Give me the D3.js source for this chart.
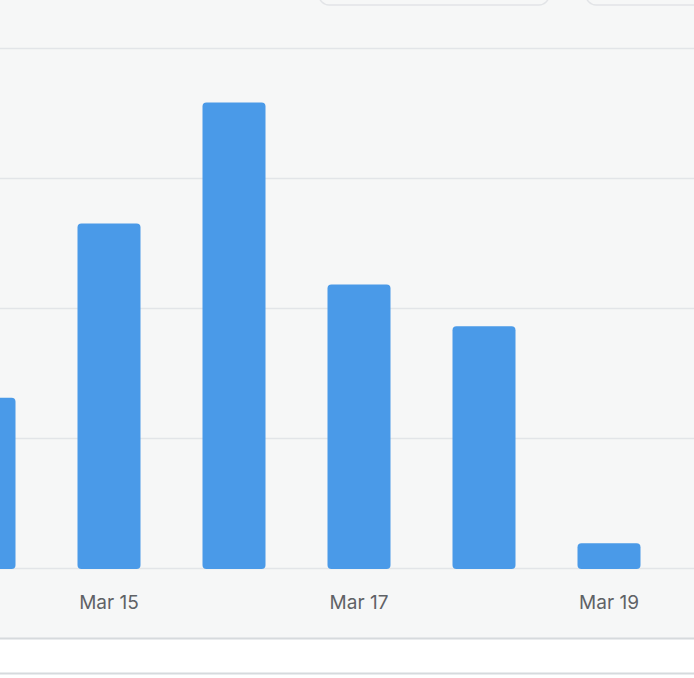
<!DOCTYPE html>
<html><head><meta charset="utf-8">
<script src="https://cdn.jsdelivr.net/npm/d3@7"></script>
<style>body{margin:0;background:#fff}svg{display:block}</style>
</head><body>
<svg id="chart" width="694" height="678"></svg>
<script>
const days = ['Mar 14', 'Mar 15', 'Mar 16', 'Mar 17', 'Mar 18', 'Mar 19'];
const counts = [13.1, 26.5, 35.8, 21.8, 18.6, 1.9];
const tickValues = [0, 10, 20, 30, 40];
const labelled = ['Mar 15', 'Mar 17', 'Mar 19'];

const svg = d3.select('#chart');
svg.append('rect').attr('x', 0).attr('y', 0).attr('width', 694).attr('height', 638).attr('fill', '#f6f7f7');
svg.append('line').attr('x1', 0).attr('x2', 694).attr('y1', 638.5).attr('y2', 638.5).attr('stroke', '#d6dadd').attr('stroke-width', 2);
svg.append('line').attr('x1', 0).attr('x2', 694).attr('y1', 673.5).attr('y2', 673.5).attr('stroke', '#d6dadd').attr('stroke-width', 2);

// toolbar buttons peeking in at the top
svg.append('rect').attr('x', 319).attr('y', -30).attr('width', 230).attr('height', 35).attr('rx', 10)
    .attr('fill', '#f6f7f7').attr('stroke', '#e2e4e7').attr('stroke-width', 1.5);
svg.append('rect').attr('x', 586).attr('y', -30).attr('width', 140).attr('height', 35).attr('rx', 10)
    .attr('fill', '#f6f7f7').attr('stroke', '#e2e4e7').attr('stroke-width', 1.5);

const x = d3.scaleBand().domain(days).range([-78.5, 671.5]).paddingInner(0.496).paddingOuter(0.248);
const y = d3.scaleLinear().domain([0, 40]).range([568, 48]);

svg.append('g').selectAll('line').data(tickValues).join('line')
    .attr('x1', 0).attr('x2', 694)
    .attr('y1', d => Math.round(y(d)) + 0.5).attr('y2', d => Math.round(y(d)) + 0.5)
    .attr('stroke', '#e2e5e8').attr('stroke-width', 1.5);

svg.append('g').selectAll('rect').data(days).join('rect')
    .attr('x', d => x(d)).attr('width', x.bandwidth())
    .attr('y', (d, i) => y(counts[i])).attr('height', (d, i) => y(0) - y(counts[i]) + 1)
    .attr('rx', 4).attr('fill', '#4a9ae8');

const axis = svg.append('g').attr('transform', 'translate(0,568)')
    .call(d3.axisBottom(x).tickValues(labelled).tickSize(0).tickPadding(28));
axis.select('.domain').remove();
axis.selectAll('text').attr('font-family', 'Inter, sans-serif').attr('font-size', 19).attr('fill', '#5f6266');
</script>
</body></html>
